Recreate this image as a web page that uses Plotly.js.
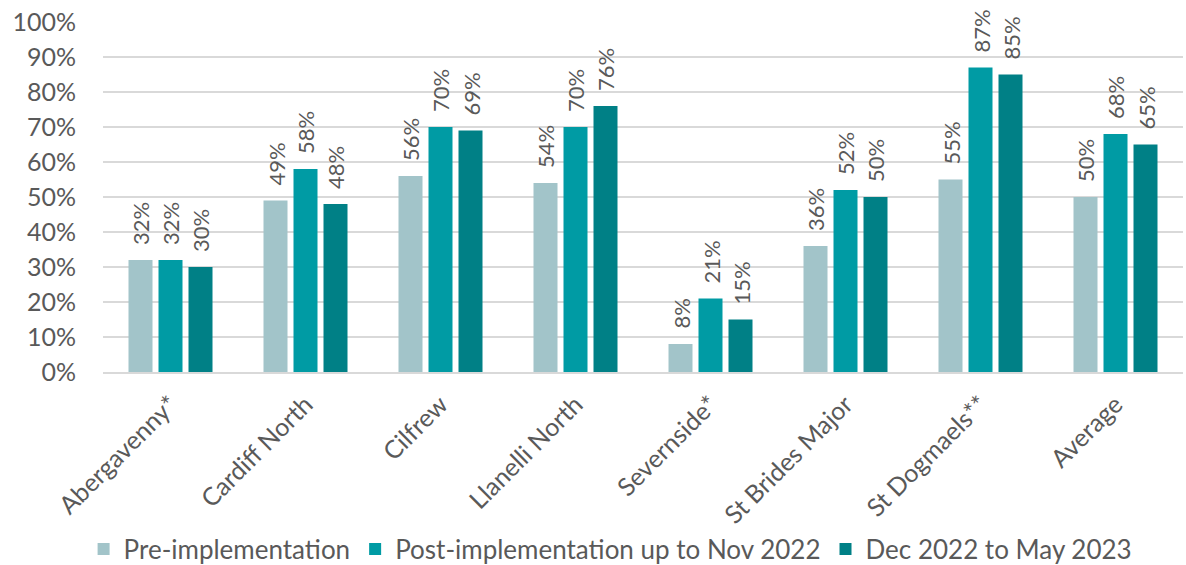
<!DOCTYPE html>
<html>
<head>
<meta charset="utf-8">
<script src="https://cdn.plot.ly/plotly-3.0.1.min.js"></script>
<style>html,body{margin:0;padding:0;background:#fff;}#chart{width:1186px;height:565px;}</style>
</head>
<body>
<div id="chart"></div>
<script>
const categories = ["Abergavenny*", "Cardiff North", "Cilfrew", "Llanelli North", "Severnside*", "St Brides Major", "St Dogmaels**", "Average"];
const seriesNames = ["Pre-implementation", "Post-implementation up to Nov 2022", "Dec 2022 to May 2023"];
const preImpl = [32, 49, 56, 54, 8, 36, 55, 50];
const postImpl = [32, 58, 70, 70, 21, 52, 87, 68];
const dec22May23 = [30, 48, 69, 76, 15, 50, 85, 65];
const yTickVals = [0, 10, 20, 30, 40, 50, 60, 70, 80, 90, 100];
const yTickText = ["0%", "10%", "20%", "30%", "40%", "50%", "60%", "70%", "80%", "90%", "100%"];

const colors = ["#a2c4c9", "#009ba4", "#008086"];
const allSeries = [preImpl, postImpl, dec22May23];
const textColor = "#595959";
const fontFam = "Lato, 'Open Sans', sans-serif";

const traces = allSeries.map((vals, i) => ({
  type: "bar",
  name: seriesNames[i],
  x: categories,
  y: vals,
  marker: {color: colors[i], line: {width: 0}},
  hoverinfo: "skip"
}));

const annotations = [];
allSeries.forEach((vals, i) => {
  vals.forEach((v, j) => {
    annotations.push({
      x: categories[j], y: v, xref: "x", yref: "y",
      text: v + "%", showarrow: false, textangle: -90,
      xanchor: "center", yanchor: "bottom",
      xshift: (i - 1) * 30, yshift: 13,
      font: {family: fontFam, size: 22, color: textColor}
    });
  });
});

const layout = {
  width: 1186, height: 565,
  margin: {l: 103, r: 3, t: 22, b: 193, autoexpand: false},
  paper_bgcolor: "#fff", plot_bgcolor: "#fff",
  font: {family: fontFam, size: 25, color: textColor},
  barmode: "group", bargap: 1/3, bargroupgap: 0.2,
  showlegend: true,
  legend: {orientation: "h", x: 0.47, xanchor: "center", y: -0.506, yanchor: "middle",
           font: {family: fontFam, size: 26, color: textColor}, itemwidth: 30, traceorder: "normal"},
  xaxis: {type: "category", tickangle: -45, showgrid: false, showline: true, linecolor: "#d9d9d9", linewidth: 2,
          ticks: "", ticklabelstandoff: 6, tickfont: {family: fontFam, size: 25, color: textColor}, automargin: false},
  yaxis: {range: [0, 100], tickvals: yTickVals, ticktext: yTickText, showgrid: true, gridcolor: "#d9d9d9", gridwidth: 2,
          zeroline: false, showline: false, ticks: "", ticklen: 0, ticklabelstandoff: 26,
          tickfont: {family: fontFam, size: 25, color: textColor}, automargin: false},
  annotations: annotations
};

Plotly.newPlot("chart", traces, layout, {displayModeBar: false, staticPlot: true});
</script>
</body>
</html>
